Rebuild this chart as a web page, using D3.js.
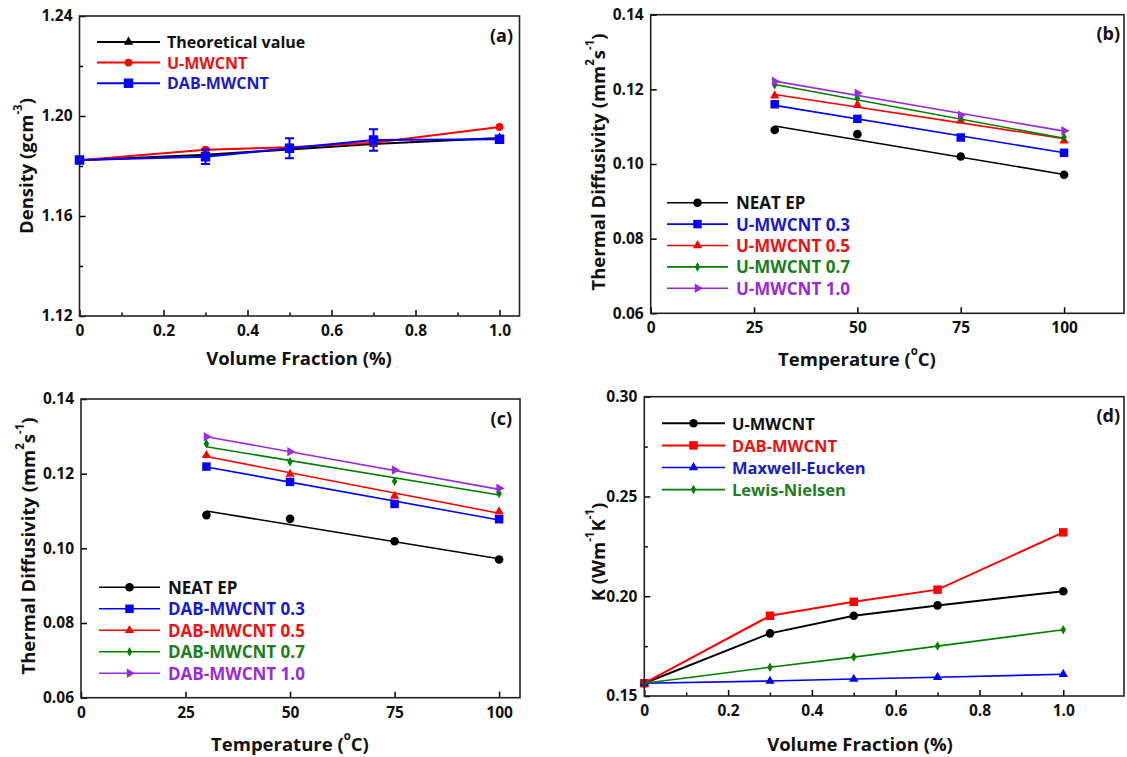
<!DOCTYPE html>
<html><head><meta charset="utf-8">
<script src="https://cdn.jsdelivr.net/npm/d3@7"></script>
<style>
body{margin:0;background:#fff}
svg{display:block}
text{font-family:"Open Sans",sans-serif;font-weight:bold}
</style>
</head><body>
<svg id="chart" width="1127" height="757"></svg>
<script>
// ---------- DATA ----------
// Panel (a): density vs volume fraction
const volFraction = [0, 0.3, 0.5, 0.7, 1.0];
const densityTheoretical = [1.1823, 1.1845, 1.1866, 1.1888, 1.1912];
const densityU = [1.1823, 1.1865, 1.1875, 1.1893, 1.1956];
const densityDAB = [1.1824, 1.1837, 1.1871, 1.1904, 1.1907];
const densityDABErr = [0.0005, 0.0029, 0.0040, 0.0043, 0.0008];
const densityYTicks = [1.12, 1.16, 1.20, 1.24];
const densityYMinor = [1.14, 1.18, 1.22];
const fracXTicks = [0, 0.2, 0.4, 0.6, 0.8, 1.0];
const fracXMinor = [0.1, 0.3, 0.5, 0.7, 0.9];

// Panel (b): U-MWCNT thermal diffusivity vs temperature (points + linear fits)
const temperatures = [30, 50, 75, 100];
const fitTemps = [30, 100];
const diffNeatB = [0.1091, 0.1080, 0.1020, 0.0971];
const diffU03 = [0.1160, 0.1121, 0.1071, 0.1030];
const diffU05 = [0.1183, 0.1158, 0.1116, 0.1062];
const diffU07 = [0.1212, 0.1176, 0.1123, 0.1072];
const diffU10 = [0.1221, 0.1190, 0.1131, 0.1089];
const fitNeatB = [0.1102, 0.0972];
const fitU03 = [0.1157, 0.1030];
const fitU05 = [0.1186, 0.1068];
const fitU07 = [0.1213, 0.1069];
const fitU10 = [0.1222, 0.1088];

// Panel (c): DAB-MWCNT thermal diffusivity vs temperature
const diffNeatC = [0.1089, 0.1079, 0.1019, 0.0970];
const diffD03 = [0.1219, 0.1178, 0.1119, 0.1078];
const diffD05 = [0.1249, 0.1199, 0.1140, 0.1098];
const diffD07 = [0.1280, 0.1232, 0.1180, 0.1147];
const diffD10 = [0.1299, 0.1259, 0.1210, 0.1161];
const fitNeatC = [0.1100, 0.0972];
const fitD03 = [0.1218, 0.1076];
const fitD05 = [0.1246, 0.1094];
const fitD07 = [0.1272, 0.1143];
const fitD10 = [0.1299, 0.1158];
const diffYTicks = [0.06, 0.08, 0.10, 0.12, 0.14];
const tempXTicks = [0, 25, 50, 75, 100];

// Panel (d): thermal conductivity vs volume fraction
const kU = [0.1564, 0.1814, 0.1902, 0.1954, 0.2025];
const kDAB = [0.1564, 0.1902, 0.1972, 0.2033, 0.2320];
const kMaxwell = [0.1564, 0.1575, 0.1585, 0.1594, 0.1609];
const kLewis = [0.1564, 0.1644, 0.1695, 0.1750, 0.1832];
const kYTicks = [0.15, 0.20, 0.25, 0.30];
const kYMinor = [0.175, 0.225, 0.275];

// ---------- STYLE ----------
const C = {black:"#000000", red:"#ff0000", blue:"#0000ff", green:"#008000", purple:"#9a2be2"};
const TXT = {black:"#111111", red:"#ee1111", blue:"#1a1acc", green:"#1c7f1c", purple:"#9a2bd6"};

const svg = d3.select("#chart");

function rich(sel, parts, size) {
  let pending = 0;
  parts.forEach(p => {
    const ts = sel.append("tspan").text(p.t);
    if (p.sup) {
      ts.attr("font-size", size*0.62).attr("dy", -size*0.42 + pending);
      pending = size*0.42;
    } else {
      ts.attr("font-size", size);
      if (pending) ts.attr("dy", pending);
      pending = 0;
    }
  });
}

function marker(g, type, cx, cy, color) {
  let sym, size, rot = 0;
  switch(type) {
    case "circle": sym = d3.symbolCircle; size = 58; break;
    case "square": sym = d3.symbolSquare; size = 72; break;
    case "triangle": sym = d3.symbolTriangle; size = 38; break;
    case "diamond": sym = d3.symbolDiamond; size = 26; break;
    case "rtriangle": sym = d3.symbolTriangle; size = 38; rot = 90; break;
    case "bigsquare": sym = d3.symbolSquare; size = 90; break;
    case "smallcircle": sym = d3.symbolCircle; size = 48; break;
  }
  g.append("path").attr("d", d3.symbol(sym, size)())
    .attr("transform", `translate(${cx},${cy}) rotate(${rot})`)
    .attr("fill", color);
}

function panel(cfg) {
  const x = d3.scaleLinear().domain(cfg.xDomain).range([cfg.left, cfg.right]);
  const y = d3.scaleLinear().domain(cfg.yDomain).range([cfg.bottom, cfg.top]);
  const g = svg.append("g");

  // series
  const line = d3.line().x(d => x(d[0])).y(d => y(d[1]));
  cfg.series.forEach(s => {
    const sg = g.append("g");
    const pts = s.fit ? s.fitX.map((v,i)=>[v, s.fit[i]]) : s.x.map((v,i)=>[v, s.y[i]]);
    sg.append("path").attr("d", line(pts))
      .attr("fill","none").attr("stroke", s.color).attr("stroke-width", s.lw || 1.6);
    if (s.err) {
      s.x.forEach((v,i) => {
        const x0 = x(v), y1 = y(s.y[i]-s.err[i]), y2 = y(s.y[i]+s.err[i]);
        sg.append("line").attr("x1",x0).attr("x2",x0).attr("y1",y1).attr("y2",y2).attr("stroke",s.color).attr("stroke-width",2);
        [y1,y2].forEach(yy => sg.append("line").attr("x1",x0-4.5).attr("x2",x0+4.5).attr("y1",yy).attr("y2",yy).attr("stroke",s.color).attr("stroke-width",2));
      });
    }
    s.x.forEach((v,i) => marker(sg, s.marker, x(v), y(s.y[i]), s.color));
  });

  // axes
  const xa = g.append("g").attr("transform", `translate(0,${cfg.bottom})`)
    .call(d3.axisBottom(x).tickValues(cfg.xTicks).tickFormat(cfg.xFmt).tickSizeInner(-6).tickSizeOuter(0).tickPadding(9));
  const ya = g.append("g").attr("transform", `translate(${cfg.left},0)`)
    .call(d3.axisLeft(y).tickValues(cfg.yTicks).tickFormat(cfg.yFmt).tickSizeInner(-6).tickSizeOuter(0).tickPadding(7));
  [xa, ya].forEach(a => {
    a.select(".domain").remove();
    a.selectAll(".tick line").attr("stroke","#000").attr("stroke-width",1.5);
    a.selectAll(".tick text").attr("font-size", 15.5).attr("font-family","'Open Sans',sans-serif").attr("font-weight","bold").attr("fill","#111");
  });
  if (cfg.xMinor) {
    const m = g.append("g").attr("transform", `translate(0,${cfg.bottom})`)
      .call(d3.axisBottom(x).tickValues(cfg.xMinor).tickFormat("").tickSizeInner(-3.5).tickSizeOuter(0));
    m.select(".domain").remove(); m.selectAll(".tick line").attr("stroke","#000").attr("stroke-width",1.5);
  }
  if (cfg.yMinor) {
    const m = g.append("g").attr("transform", `translate(${cfg.left},0)`)
      .call(d3.axisLeft(y).tickValues(cfg.yMinor).tickFormat("").tickSizeInner(-3.5).tickSizeOuter(0));
    m.select(".domain").remove(); m.selectAll(".tick line").attr("stroke","#000").attr("stroke-width",1.5);
  }
  // frame
  g.append("rect").attr("x", cfg.left).attr("y", cfg.top)
    .attr("width", cfg.right - cfg.left).attr("height", cfg.bottom - cfg.top)
    .attr("fill","none").attr("stroke","#222").attr("stroke-width",1.6);

  // titles
  const xt = g.append("text").attr("x", cfg.xTitlePos[0]).attr("y", cfg.xTitlePos[1])
    .attr("text-anchor","middle").attr("dominant-baseline","central").attr("fill","#111");
  rich(xt, cfg.xTitle, 18.5);
  const yt = g.append("text").attr("transform", `translate(${cfg.yTitlePos[0]},${cfg.yTitlePos[1]}) rotate(-90)`)
    .attr("text-anchor","middle").attr("dominant-baseline","central").attr("fill","#111");
  rich(yt, cfg.yTitle, 18.5);
  g.append("text").attr("x", cfg.tag[1]).attr("y", cfg.tag[2]).attr("text-anchor","end")
    .attr("dominant-baseline","central").attr("font-size",18).attr("fill","#111").text(cfg.tag[0]);

  // legend
  const L = cfg.legend;
  cfg.series.forEach((s,i) => {
    const ly = L.y0 + i*L.dy;
    g.append("line").attr("x1",L.x1).attr("x2",L.x2).attr("y1",ly).attr("y2",ly)
      .attr("stroke",s.color).attr("stroke-width", s.lw || 1.6);
    marker(g, s.marker, (L.x1+L.x2)/2, ly, s.color);
    g.append("text").attr("x", L.tx).attr("y", ly).attr("dominant-baseline","central")
      .attr("font-size", L.fs).attr("fill", s.text).text(s.name);
  });
}

const fmt2 = d3.format(".2f");
const fracFmt = d => d === 0 ? "0" : d3.format(".1f")(d);

// (a)
panel({
  left:79.5, right:519.5, top:16, bottom:316,
  xDomain:[0, 1.0476], yDomain:[1.12, 1.24],
  xTicks:fracXTicks, xMinor:fracXMinor, xFmt:fracFmt,
  yTicks:densityYTicks, yMinor:densityYMinor, yFmt:fmt2,
  xTitle:[{t:"Volume Fraction (%)"}], xTitlePos:[299, 357],
  yTitle:[{t:"Density (gcm"},{t:"-3",sup:true},{t:")"}], yTitlePos:[25, 166],
  tag:["(a)", 513, 35],
  legend:{x1:97, x2:160, tx:167, y0:42, dy:20.6, fs:16},
  series:[
    {name:"Theoretical value", x:volFraction, y:densityTheoretical, color:C.black, text:TXT.black, marker:"triangle", lw:2},
    {name:"U-MWCNT", x:volFraction, y:densityU, color:C.red, text:TXT.red, marker:"smallcircle", lw:2},
    {name:"DAB-MWCNT", x:volFraction, y:densityDAB, err:densityDABErr, color:C.blue, text:TXT.blue, marker:"bigsquare", lw:2}
  ]
});

// (b)
panel({
  left:650.7, right:1124, top:14.7, bottom:313.3,
  xDomain:[0, 114.5], yDomain:[0.06, 0.14],
  xTicks:tempXTicks, xFmt:d3.format("d"),
  yTicks:diffYTicks, yFmt:fmt2,
  xTitle:[{t:"Temperature ("},{t:"o",sup:true},{t:"C)"}], xTitlePos:[857, 358],
  yTitle:[{t:"Thermal Diffusivity (mm"},{t:"2",sup:true},{t:"s"},{t:"-1",sup:true},{t:")"}], yTitlePos:[597, 162],
  tag:["(b)", 1120, 33],
  legend:{x1:667, x2:728, tx:736, y0:202.7, dy:21.4, fs:17},
  series:[
    {name:"NEAT EP", x:temperatures, y:diffNeatB, fitX:fitTemps, fit:fitNeatB, color:C.black, text:TXT.black, marker:"circle"},
    {name:"U-MWCNT 0.3", x:temperatures, y:diffU03, fitX:fitTemps, fit:fitU03, color:C.blue, text:TXT.blue, marker:"square"},
    {name:"U-MWCNT 0.5", x:temperatures, y:diffU05, fitX:fitTemps, fit:fitU05, color:C.red, text:TXT.red, marker:"triangle"},
    {name:"U-MWCNT 0.7", x:temperatures, y:diffU07, fitX:fitTemps, fit:fitU07, color:C.green, text:TXT.green, marker:"diamond"},
    {name:"U-MWCNT 1.0", x:temperatures, y:diffU10, fitX:fitTemps, fit:fitU10, color:C.purple, text:TXT.purple, marker:"rtriangle"}
  ]
});

// (c)
panel({
  left:81, right:520, top:399, bottom:697.7,
  xDomain:[0, 105], yDomain:[0.06, 0.14],
  xTicks:tempXTicks, xFmt:d3.format("d"),
  yTicks:diffYTicks, yFmt:fmt2,
  xTitle:[{t:"Temperature ("},{t:"o",sup:true},{t:"C)"}], xTitlePos:[290, 743],
  yTitle:[{t:"Thermal Diffusivity (mm"},{t:"2",sup:true},{t:"s"},{t:"-1",sup:true},{t:")"}], yTitlePos:[27, 546],
  tag:["(c)", 512, 418],
  legend:{x1:99, x2:160, tx:168, y0:587.3, dy:21.5, fs:17},
  series:[
    {name:"NEAT EP", x:temperatures, y:diffNeatC, fitX:fitTemps, fit:fitNeatC, color:C.black, text:TXT.black, marker:"circle"},
    {name:"DAB-MWCNT 0.3", x:temperatures, y:diffD03, fitX:fitTemps, fit:fitD03, color:C.blue, text:TXT.blue, marker:"square"},
    {name:"DAB-MWCNT 0.5", x:temperatures, y:diffD05, fitX:fitTemps, fit:fitD05, color:C.red, text:TXT.red, marker:"triangle"},
    {name:"DAB-MWCNT 0.7", x:temperatures, y:diffD07, fitX:fitTemps, fit:fitD07, color:C.green, text:TXT.green, marker:"diamond"},
    {name:"DAB-MWCNT 1.0", x:temperatures, y:diffD10, fitX:fitTemps, fit:fitD10, color:C.purple, text:TXT.purple, marker:"rtriangle"}
  ]
});

// (d)
panel({
  left:644.3, right:1124, top:396.7, bottom:696,
  xDomain:[0, 1.145], yDomain:[0.15, 0.30],
  xTicks:fracXTicks, xMinor:fracXMinor, xFmt:fracFmt,
  yTicks:kYTicks, yMinor:kYMinor, yFmt:fmt2,
  xTitle:[{t:"Volume Fraction (%)"}], xTitlePos:[860, 743],
  yTitle:[{t:"K (Wm"},{t:"-1",sup:true},{t:"K"},{t:"-1",sup:true},{t:")"}], yTitlePos:[597, 552],
  tag:["(d)", 1120, 415],
  legend:{x1:662, x2:725, tx:732, y0:423.3, dy:22.1, fs:16.5},
  series:[
    {name:"U-MWCNT", x:volFraction, y:kU, color:C.black, text:TXT.black, marker:"circle", lw:2},
    {name:"DAB-MWCNT", x:volFraction, y:kDAB, color:C.red, text:TXT.red, marker:"square", lw:2},
    {name:"Maxwell-Eucken", x:volFraction, y:kMaxwell, color:C.blue, text:TXT.blue, marker:"triangle"},
    {name:"Lewis-Nielsen", x:volFraction, y:kLewis, color:C.green, text:TXT.green, marker:"diamond"}
  ]
});
</script>
</body></html>
